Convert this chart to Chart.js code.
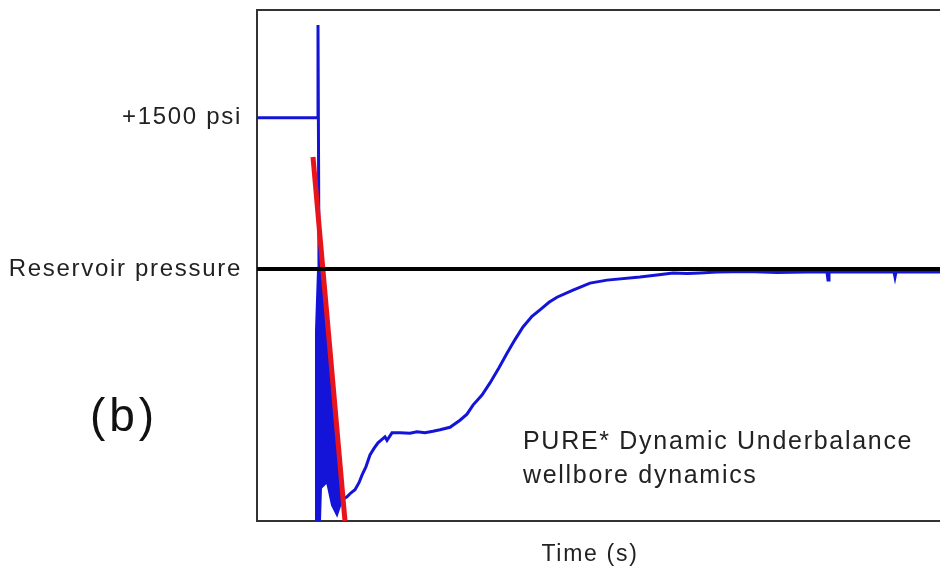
<!DOCTYPE html>
<html>
<head>
<meta charset="utf-8">
<script src="https://cdn.jsdelivr.net/npm/chart.js@4.4.1/dist/chart.umd.min.js"></script>
<style>
  html, body { margin: 0; padding: 0; background: #fff; overflow: hidden; }
  #wrap { width: 940px; height: 576px; }
</style>
</head>
<body>
<div id="wrap"><canvas id="canvasChart" width="940" height="576"></canvas></div>
<script>
// pressure trace (psi relative to reservoir) vs time (s)
var blueTime = [0, 0.61, 0.61, 0.62, 0.62, 0.85, 0.90,
  0.94, 0.98, 1.02, 1.05, 1.09, 1.13, 1.17, 1.21, 1.25, 1.28, 1.30, 1.35, 1.43, 1.53, 1.60, 1.68, 1.76, 1.83,
  1.93, 2.03, 2.10, 2.16, 2.25, 2.33, 2.42, 2.50, 2.58, 2.66, 2.75, 2.83, 2.92, 3.00,
  3.16, 3.33, 3.50, 3.83, 4.0, 4.16, 4.3, 4.43, 4.6, 4.9, 5.2, 5.5, 5.70, 5.71, 5.72, 6.0, 6.37, 6.38, 6.39, 6.83];
var bluePsi = [1500, 1500, 2420, 0, -300, -2290, -2260,
  -2220, -2190, -2120, -2045, -1960, -1845, -1780, -1725, -1690, -1665, -1700, -1625, -1625, -1630, -1615, -1625, -1610, -1595,
  -1570, -1500, -1440, -1350, -1250, -1130, -980, -835, -700, -575, -470, -405, -330, -280,
  -210, -140, -110, -80, -60, -40, -45, -40, -30, -25, -35, -30, -30, -110, -30, -30, -30, -80, -30, -30];

// envelope of the fast oscillation right after the shot
var burstTime = [0.61, 0.59, 0.59, 0.63, 0.64, 0.70, 0.75, 0.80, 0.85, 0.83, 0.76, 0.70, 0.65, 0.63];
var burstPsi = [-10, -605, -2500, -2500, -2173, -2113, -2342, -2441, -2292, -1994, -1300, -605, -208, -10];

// fitted line
var redTime = [0.56, 0.88];
var redPsi = [1111, -2500];

// reservoir pressure line
var reservoirTime = [0, 6.83];
var reservoirPsi = [0, 0];

var tickValues = [0, 1500];
var tickLabels = ["Reservoir pressure", "+1500 psi"];

function toPoints(xs, ys) {
  var pts = [];
  for (var i = 0; i < xs.length; i++) {
    pts.push({x: xs[i], y: ys[i]});
  }
  return pts;
}

// frame + annotation text
var framePlugin = {
  id: "frame",
  beforeDraw: function(chart) {
    chart.ctx.letterSpacing = "1.7px";
  },
  beforeDatasetsDraw: function(chart) {
    var a = chart.chartArea;
    var ctx = chart.ctx;
    ctx.save();
    ctx.strokeStyle = "#333";
    ctx.lineWidth = 2;
    ctx.beginPath();
    ctx.moveTo(a.right + 5, a.top);
    ctx.lineTo(a.left, a.top);
    ctx.lineTo(a.left, a.bottom);
    ctx.lineTo(a.right + 5, a.bottom);
    ctx.stroke();
    ctx.restore();
  },
  afterDraw: function(chart) {
    var ctx = chart.ctx;
    ctx.save();
    ctx.textBaseline = "middle";
    ctx.fillStyle = "#222";
    ctx.letterSpacing = "1.7px";
    ctx.font = "25px 'Liberation Sans', Arial, sans-serif";
    ctx.textAlign = "left";
    ctx.fillText("PURE* Dynamic Underbalance", 523, 442);
    ctx.fillText("wellbore dynamics", 523, 476);
    ctx.font = "23px 'Liberation Sans', Arial, sans-serif";
    ctx.textAlign = "center";
    ctx.fillText("Time (s)", 590, 555);
    ctx.fillStyle = "#111";
    ctx.letterSpacing = "4px";
    ctx.font = "46px 'Liberation Sans', Arial, sans-serif";
    ctx.fillText("(b)", 124, 418);
    ctx.restore();
  }
};

var ctx = document.getElementById("canvasChart");
var chart = new Chart(ctx, {
  type: "line",
  data: {
    datasets: [
      {
        label: "Reservoir pressure",
        data: toPoints(reservoirTime, reservoirPsi),
        borderColor: "#000",
        borderWidth: 4,
        pointRadius: 0
      },
      {
        label: "Fit",
        data: toPoints(redTime, redPsi),
        borderColor: "#e8141c",
        borderWidth: 5,
        pointRadius: 0
      },
      {
        label: "Pressure",
        data: toPoints(blueTime, bluePsi),
        borderColor: "#1414d8",
        borderWidth: 3,
        pointRadius: 0
      },
      {
        label: "Oscillation",
        data: toPoints(burstTime, burstPsi),
        borderColor: "#1414d8",
        backgroundColor: "#1414d8",
        borderWidth: 2,
        pointRadius: 0,
        fill: "shape"
      }
    ]
  },
  options: {
    responsive: false,
    animation: false,
    layout: { padding: { top: 10, bottom: 55, left: 0, right: 0 } },
    plugins: {
      legend: { display: false },
      tooltip: { enabled: false }
    },
    elements: { line: { tension: 0, borderCapStyle: "butt" } },
    scales: {
      x: {
        type: "linear",
        display: false,
        min: 0,
        max: 6.83
      },
      y: {
        min: -2500,
        max: 2570,
        afterFit: function(scale) {
          scale.width = 257;
          scale.paddingTop = 0;
          scale.paddingBottom = 0;
        },
        afterBuildTicks: function(scale) {
          scale.ticks = tickValues.map(function(v) { return {value: v}; });
        },
        grid: { display: false, drawTicks: false },
        border: { display: false },
        ticks: {
          padding: 15,
          color: "#222",
          font: { family: "'Liberation Sans', Arial, sans-serif", size: 24 },
          callback: function(value) {
            var i = tickValues.indexOf(value);
            return i >= 0 ? tickLabels[i] : "";
          }
        }
      }
    }
  },
  plugins: [framePlugin]
});
</script>
</body>
</html>
